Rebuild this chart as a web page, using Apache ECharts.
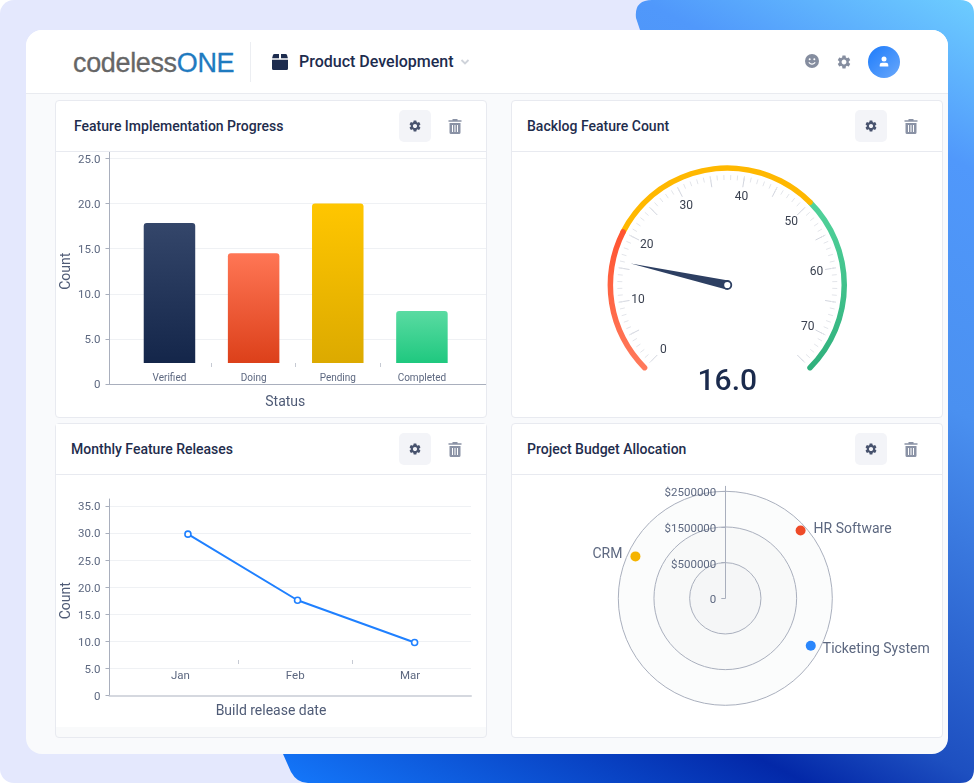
<!DOCTYPE html>
<html>
<head>
<meta charset="utf-8">
<title>Product Development</title>
<script src="https://cdn.jsdelivr.net/npm/echarts@6/dist/echarts.min.js"></script>
<style>
html,body{margin:0;padding:0;background:#fff;overflow:hidden}
body{width:974px;height:783px;position:relative;font-family:Roboto,sans-serif}
#bg{position:absolute;left:0;top:0}
.shell{position:absolute;left:26px;top:30px;width:922px;height:724px;background:#f9fafc;border-radius:16px}
.top{position:absolute;left:26px;top:30px;width:922px;height:63px;background:#fff;border-radius:16px 16px 0 0;border-bottom:1px solid #e9ebf0}
.logo{position:absolute;left:73px;top:46px;font:400 27px "Liberation Sans",sans-serif;letter-spacing:-.35px;color:#666;line-height:34px;-webkit-text-stroke:.3px}
.logo b{font-weight:400;color:#1f7abf}
.sep{position:absolute;left:250px;top:42px;width:1px;height:40px;background:#eceef2}
.app{position:absolute;left:299px;top:52px;font-size:16px;font-weight:500;color:#1d2c4e;line-height:20px}
.panel{position:absolute;width:430px;background:#fff;border:1px solid #e8eaf0;border-radius:4px;box-sizing:content-box}
.panel .head{position:absolute;left:0;top:0;right:0;height:50px;border-bottom:1px solid #e8eaf0}
.panel .ttl{position:absolute;top:15px;font-size:14px;font-weight:500;color:#1f2d4d;line-height:20px}
.panel .btn{position:absolute;top:9px;width:32px;height:32px;border-radius:5px;background:#f3f4f8}
.chart{position:absolute;left:0;top:51px;width:430px}
svg.ic{position:absolute}
</style>
</head>
<body>
<svg id="bg" width="974" height="783">
  <defs>
    <linearGradient id="blue" gradientUnits="userSpaceOnUse" x1="974" y1="0" x2="514" y2="900">
      <stop offset="0" stop-color="#6dcdff"/>
      <stop offset="0.15" stop-color="#5098fb"/>
      <stop offset="0.37" stop-color="#4a90f0"/>
      <stop offset="0.685" stop-color="#1d4fc0"/>
      <stop offset="0.765" stop-color="#0328a8"/>
      <stop offset="1" stop-color="#1478fb"/>
    </linearGradient>
  </defs>
  <rect x="0" y="0" width="974" height="783" rx="14" fill="#e4e8fd"/>
  <path d="M652 0H960Q974 0 974 14V769Q974 783 960 783H308Q297 783 291 772L283 754L640 30L636 18Q634 0 652 0Z" fill="url(#blue)"/>
</svg>
<div class="shell"></div>
<div class="top"></div>
<div class="logo">codeless<b>ONE</b></div>
<div class="sep"></div>
<svg class="ic" style="left:272px;top:54px" width="16" height="16" viewBox="0 0 16 16"><path fill="#1d2c4e" d="M2.5 0H7V4.3H0.1L1 1Q1.3 0 2.5 0ZM9 0H13.5Q14.7 0 15 1L15.9 4.3H9ZM0 5.7H16V14.5Q16 16 14.5 16H1.5Q0 16 0 14.5Z"/></svg>
<div class="app">Product Development</div>
<svg class="ic" style="left:460px;top:58px" width="10" height="8" viewBox="0 0 10 8"><path d="M1.5 2L5 5.5L8.5 2" fill="none" stroke="#cfd3da" stroke-width="1.8"/></svg>
<svg class="ic" style="left:805px;top:54px" width="14" height="14" viewBox="0 0 14 14"><circle cx="7" cy="7" r="7" fill="#858d9f"/><circle cx="4.7" cy="5.3" r="1" fill="#fff"/><circle cx="9.3" cy="5.3" r="1" fill="#fff"/><path d="M3.8 8.4Q7 12 10.2 8.4" fill="none" stroke="#fff" stroke-width="1.2"/></svg>
<svg class="ic gear" style="left:836px;top:54px" width="16" height="16" viewBox="0 0 24 24" data-c="#858d9f"></svg>
<svg class="ic" style="left:868px;top:46px" width="32" height="32" viewBox="0 0 32 32"><defs><linearGradient id="ava" x1="0" y1="0" x2="1" y2="1"><stop offset="0" stop-color="#1c7bfb"/><stop offset="1" stop-color="#6aa8fb"/></linearGradient></defs><circle cx="16" cy="16" r="16" fill="url(#ava)"/><circle cx="16" cy="13" r="2.5" fill="#fff"/><path d="M11.7 20.5V19Q11.7 16.8 14 16.8H18Q20.3 16.8 20.3 19V20.5Z" fill="#fff"/></svg>

<div class="panel" style="left:55px;top:100px;height:316px">
  <div class="head"></div><div class="ttl" style="left:18px">Feature Implementation Progress</div>
  <div class="btn" style="left:343px"></div>
  <svg class="ic gear" style="left:352px;top:18px" width="14" height="14" viewBox="0 0 24 24" data-c="#48536e"></svg>
  <svg class="ic trash" style="left:392px;top:18px" width="14" height="15" viewBox="0 0 14 15"></svg>
  <div class="chart" id="barChart" style="height:265px"></div>
</div>
<div class="panel" style="left:511px;top:100px;height:316px">
  <div class="head"></div><div class="ttl" style="left:15px">Backlog Feature Count</div>
  <div class="btn" style="left:343px"></div>
  <svg class="ic gear" style="left:352px;top:18px" width="14" height="14" viewBox="0 0 24 24" data-c="#48536e"></svg>
  <svg class="ic trash" style="left:392px;top:18px" width="14" height="15" viewBox="0 0 14 15"></svg>
  <div class="chart" id="gaugeChart" style="height:265px"></div>
</div>
<div class="panel" style="left:55px;top:423px;height:313px;background:#f9fafb">
  <div class="head" style="background:#fff"></div><div class="ttl" style="left:15px">Monthly Feature Releases</div>
  <div class="btn" style="left:343px"></div>
  <svg class="ic gear" style="left:352px;top:18px" width="14" height="14" viewBox="0 0 24 24" data-c="#48536e"></svg>
  <svg class="ic trash" style="left:392px;top:18px" width="14" height="15" viewBox="0 0 14 15"></svg>
  <div class="chart" id="lineChart" style="height:252px;background:#fff"></div>
</div>
<div class="panel" style="left:511px;top:423px;height:313px">
  <div class="head"></div><div class="ttl" style="left:15px">Project Budget Allocation</div>
  <div class="btn" style="left:343px"></div>
  <svg class="ic gear" style="left:352px;top:18px" width="14" height="14" viewBox="0 0 24 24" data-c="#48536e"></svg>
  <svg class="ic trash" style="left:392px;top:18px" width="14" height="15" viewBox="0 0 14 15"></svg>
  <div class="chart" id="polarChart" style="height:262px"></div>
</div>

<script>
// bar chart
var statusNames = ['Verified', 'Doing', 'Pending', 'Completed'];
var statusCounts = [17.85, 14.5, 20, 8.1];
var barTops = ['#34466a', '#ff7655', '#ffc600', '#5adba2'];
var barBottoms = ['#14264a', '#dc401a', '#dcaa00', '#1fc87f'];

// gauge
var backlogCount = 16;
var gaugeMax = 75;
var gaugeLabels = [0, 10, 20, 30, 40, 50, 60, 70];

// line chart
var monthNames = ['Jan', 'Feb', 'Mar'];
var releaseSlots = [0.065, 1.02, 2.04];
var releaseCounts = [29.8, 17.6, 9.8];

// polar chart
var projectNames = ['HR Software', 'Ticketing System', 'CRM'];
var projectBudgets = [2340000, 2240000, 2280000];
var projectAngles = [48, 119, 295];
var projectColors = ['#ee4a27', '#2a86fb', '#f5b400'];
var budgetTicks = [0, 500000, 1500000, 2500000];

var FONT = 'Roboto';
var LABEL = '#5d6880';
var AXIS = '#a9afbd';
var GRID = '#eff1f4';

var GEAR = 'M19.14 12.94c.04-.3.06-.61.06-.94 0-.32-.02-.64-.07-.94l2.03-1.58a.49.49 0 0 0 .12-.61l-1.92-3.32a.488.488 0 0 0-.59-.22l-2.39.96c-.5-.38-1.03-.7-1.62-.94l-.36-2.54a.484.484 0 0 0-.48-.41h-3.84c-.24 0-.43.17-.47.41l-.36 2.54c-.59.24-1.13.57-1.62.94l-2.39-.96c-.22-.08-.47 0-.59.22L2.74 8.87c-.12.21-.08.47.12.61l2.03 1.58c-.05.3-.09.63-.09.94s.02.64.07.94l-2.03 1.58a.49.49 0 0 0-.12.61l1.92 3.32c.12.22.37.29.59.22l2.39-.96c.5.38 1.03.7 1.62.94l.36 2.54c.05.24.24.41.48.41h3.84c.24 0 .44-.17.47-.41l.36-2.54c.59-.24 1.13-.56 1.62-.94l2.39.96c.22.08.47 0 .59-.22l1.92-3.32c.12-.22.07-.47-.12-.61l-2.01-1.58zM12 15.6c-1.98 0-3.6-1.62-3.6-3.6s1.62-3.6 3.6-3.6 3.6 1.62 3.6 3.6-1.62 3.6-3.6 3.6z';
document.querySelectorAll('.gear').forEach(function (el) {
    el.innerHTML = '<path fill="' + el.getAttribute('data-c') + '" d="' + GEAR + '"/>';
});
document.querySelectorAll('.trash').forEach(function (el) {
    el.innerHTML = '<path fill="#8a92a5" d="M4.5 0H9.5V1.2H13.5V2.8H.5V1.2H4.5ZM1.5 4H12.5V13.5Q12.5 15 11 15H3Q1.5 15 1.5 13.5ZM4 6V13H5V6ZM6.5 6V13H7.5V6ZM9 6V13H10V6Z"/>';
});

function vgrad(top, bottom) {
    return new echarts.graphic.LinearGradient(0, 0, 0, 1, [
        {offset: 0, color: top},
        {offset: 1, color: bottom}
    ]);
}

// one grid for scale and gridlines, one for the categories (floating above zero),
// one for the tall axis line
function frame(o) {
    var boxes = [
        {outerBoundsMode: 'none', left: o.left, width: o.right - o.left, top: o.top, height: o.bottom - o.top},
        {outerBoundsMode: 'none', left: o.catLeft, width: o.catRight - o.catLeft, top: o.top, height: o.catBottom - o.top},
        {outerBoundsMode: 'none', left: o.left, width: 10, top: o.lineTop, height: o.bottom - o.lineTop}
    ];
    var yAxes = [
        {
            gridIndex: 0, type: 'value', min: 0, max: o.max, interval: 5,
            name: 'Count', nameLocation: 'middle', nameGap: 36, nameMoveOverlap: false,
            nameTextStyle: {fontFamily: FONT, fontSize: 14, color: '#4f5b76'},
            axisLine: {show: false},
            axisTick: {show: true, length: 4, lineStyle: {color: AXIS}},
            axisLabel: {
                margin: 9,
                formatter: function (v) { return '{v|' + (v === 0 ? '0' : v.toFixed(1)) + '}'; },
                rich: {v: {padding: [3, 0, 0, 0], fontFamily: FONT, fontSize: 11.5, color: LABEL}}
            },
            splitLine: {lineStyle: {color: GRID, width: o.gridWidth}}
        },
        {gridIndex: 1, type: 'value', min: o.catFloor, max: o.max, show: false},
        {
            gridIndex: 2, type: 'value', min: 0, max: 1,
            axisLine: {show: true, lineStyle: {color: AXIS}},
            axisTick: {show: false}, axisLabel: {show: false}, splitLine: {show: false}
        }
    ];
    var slotTicks = [];
    for (var i = 1; i < o.cats.length; i++) slotTicks.push(i - 0.5);
    var xAxes = [
        {
            gridIndex: 0, type: 'category', data: [''],
            name: o.xName, nameLocation: 'middle', nameGap: o.nameGap,
            nameTextStyle: {fontFamily: FONT, fontSize: 14, color: '#4f5b76', padding: [0, o.namePad, 0, 0]},
            axisLine: {lineStyle: {color: o.baseColor, width: o.baseWidth}},
            axisTick: {show: false}, axisLabel: {show: false}
        },
        {
            gridIndex: 1, type: 'category', data: o.cats, position: 'bottom',
            axisLine: {show: false}, axisTick: {show: false},
            axisLabel: {margin: o.catMargin, fontFamily: FONT, fontSize: o.catFont, color: LABEL}
        },
        {gridIndex: 2, type: 'category', data: [''], show: false},
        {
            // same span as the categories, carries the ticks between them
            gridIndex: 1, type: 'value', position: 'bottom', min: -0.5, max: o.cats.length - 0.5,
            axisLine: {show: false}, axisLabel: {show: false}, splitLine: {show: false},
            axisTick: {show: true, length: 4, lineStyle: {color: '#c6cad3'}, customValues: slotTicks}
        }
    ];
    return {grid: boxes, xAxis: xAxes, yAxis: yAxes};
}

var barOpt = frame({
    left: 53.5, right: 430, top: 6.5, bottom: 232, lineTop: 0,
    catLeft: 71.4, catRight: 408, catBottom: 211, catFloor: 2.33, max: 25, gridWidth: 1,
    xName: 'Status', nameGap: 11, namePad: 25, baseColor: AXIS, baseWidth: 1,
    cats: statusNames, catMargin: 10, catFont: 10
});
barOpt.animation = false;
barOpt.series = [{
    type: 'bar', xAxisIndex: 1, yAxisIndex: 1, barWidth: 51.5,
    data: statusCounts.map(function (v, i) {
        return {value: v, itemStyle: {color: vgrad(barTops[i], barBottoms[i]), borderRadius: [3, 3, 0, 0]}};
    })
}];
echarts.init(document.getElementById('barChart')).setOption(barOpt);

var lineOpt = frame({
    left: 53.5, right: 415, top: 31, bottom: 220.6, lineTop: 24,
    catLeft: 67.1, catRight: 411.4, catBottom: 185, catFloor: 6.57, max: 35, gridWidth: 1.2,
    xName: 'Build release date', nameGap: 9, namePad: 38.5, baseColor: '#d5d8df', baseWidth: 2,
    cats: monthNames, catMargin: 10, catFont: 11.5
});
lineOpt.animation = false;
lineOpt.series = [{
    type: 'line', xAxisIndex: 3, yAxisIndex: 1,
    symbol: 'circle', symbolSize: 6,
    lineStyle: {color: '#1f80ff', width: 2},
    itemStyle: {color: '#fff', borderColor: '#1f80ff', borderWidth: 1.6},
    data: releaseSlots.map(function (x, i) { return [x, releaseCounts[i]]; })
}];
echarts.init(document.getElementById('lineChart')).setOption(lineOpt);

var gaugeCenter = [215.3, 133];
echarts.init(document.getElementById('gaugeChart')).setOption({
    animation: false,
    // the gauge forces its own label anchoring, so the numbers sit on a matching polar
    polar: {center: gaugeCenter, radius: 90.3},
    angleAxis: {type: 'value', min: 0, max: gaugeMax * 360 / 270, startAngle: 225, clockwise: true, show: false},
    radiusAxis: {type: 'value', min: 0, max: 1, show: false},
    series: [{
        type: 'gauge',
        center: gaugeCenter, radius: 119.7,
        startAngle: 225, endAngle: -45,
        min: 0, max: gaugeMax, splitNumber: 15,
        axisLine: {
            roundCap: true,
            lineStyle: {
                width: 5.5,
                color: [
                    [20 / gaugeMax, vgrad('#ff5330', '#ff7a5c')],
                    [50 / gaugeMax, '#ffb800'],
                    [1, vgrad('#52d39b', '#2fb07c')]
                ]
            }
        },
        splitLine: {distance: 6.2, length: 9, lineStyle: {color: '#d2d5de', width: 1}},
        axisTick: {distance: 4.2, length: 5, splitNumber: 5, lineStyle: {color: '#e3e5ea', width: 1}},
        axisLabel: {show: false},
        pointer: {icon: 'triangle', width: 9, length: 99, offsetCenter: [0, 0], itemStyle: {color: '#2d3f62'}},
        anchor: {
            show: true, showAbove: true, size: 8,
            itemStyle: {color: '#fff', borderColor: '#2d3f62', borderWidth: 1.8}
        },
        title: {show: false},
        detail: {
            offsetCenter: [0, 97], valueAnimation: false,
            fontFamily: FONT, fontSize: 30, fontWeight: 500, color: '#1b2b4d',
            formatter: function (v) { return v.toFixed(1); }
        },
        data: [{value: backlogCount}]
    }, {
        type: 'scatter', coordinateSystem: 'polar',
        symbolSize: 1, itemStyle: {color: 'rgba(0,0,0,0)', opacity: 1}, silent: true,
        label: {
            show: true, position: 'inside', offset: [0, 1], fontFamily: FONT, fontSize: 12, color: '#3a4150',
            formatter: function (p) { return String(p.value[1]); }
        },
        data: gaugeLabels.map(function (v) { return [1, v]; })
    }]
});

// ticks are evenly spaced rings but not evenly spaced dollars
function ringPos(v) {
    for (var i = 1; i < budgetTicks.length; i++) {
        if (v <= budgetTicks[i]) {
            return i - 1 + (v - budgetTicks[i - 1]) / (budgetTicks[i] - budgetTicks[i - 1]);
        }
    }
    return budgetTicks.length - 1;
}
var labelSide = ['right', 'right', 'left'];
var labelShift = [[0, -1], [-1, 4], [0, -2]];
var ringTop = budgetTicks.length - 1;
function hiddenAngle(i) {
    return {polarIndex: i, type: 'value', min: 0, max: 360, startAngle: 90, clockwise: true, show: false};
}
echarts.init(document.getElementById('polarChart')).setOption({
    animation: false,
    polar: [
        {center: [213.3, 123.3], radius: 107},
        {center: [213.3, 123.3], radius: 107},
        {center: [213.3, 123.3], radius: 112}
    ],
    angleAxis: [hiddenAngle(0), hiddenAngle(1), hiddenAngle(2)],
    radiusAxis: [
        {
            // fills only, so the rings of the next axis stay on top
            polarIndex: 0, z: 0, type: 'value', min: 0, max: ringTop, interval: 1,
            axisLine: {show: false}, axisTick: {show: false}, axisLabel: {show: false},
            splitLine: {show: false},
            splitArea: {show: true, areaStyle: {color: ['#f5f6f7', '#f8f9f9', '#fbfcfc']}}
        },
        {
            polarIndex: 1, z: 1, type: 'value', min: 0, max: ringTop, interval: 1,
            axisLine: {show: false},
            axisTick: {show: true, length: 4, lineStyle: {color: AXIS}},
            axisLabel: {
                margin: 9,
                formatter: function (v) { return '{v|' + (v === 0 ? '0' : '$' + budgetTicks[v]) + '}'; },
                rich: {v: {padding: [4, 0, 0, 0], fontFamily: FONT, fontSize: 11.5, color: LABEL}}
            },
            splitLine: {show: true, lineStyle: {color: AXIS, width: 1}},
            splitArea: {show: false}
        },
        {
            polarIndex: 2, z: 1, type: 'value', min: 0, max: 1, interval: 1,
            axisLine: {show: true, lineStyle: {color: AXIS}},
            axisTick: {show: false}, axisLabel: {show: false},
            splitLine: {show: false}, splitArea: {show: false}
        }
    ],
    series: [{
        type: 'scatter', coordinateSystem: 'polar', polarIndex: 1, z: 5,
        symbolSize: 10,
        data: projectNames.map(function (name, i) {
            return {
                name: name,
                value: [ringPos(projectBudgets[i]), projectAngles[i]],
                itemStyle: {color: projectColors[i], opacity: 1},
                label: {
                    show: true, formatter: name, position: labelSide[i], distance: 8,
                    offset: labelShift[i], fontFamily: FONT, fontSize: 14, color: LABEL
                }
            };
        })
    }]
});
</script>
</body>
</html>
